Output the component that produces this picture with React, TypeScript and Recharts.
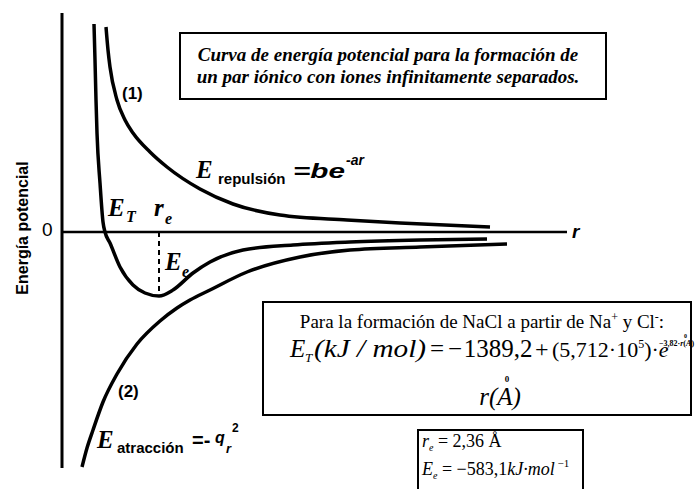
import { LineChart, Line, XAxis, YAxis, ReferenceLine } from 'recharts'

// Curvas de energía potencial (unidades arbitrarias): r horizontal, E vertical
const repulsionR = [8.8, 9.2, 9.6, 11, 12.6, 14.2, 17.6, 21, 27.6, 34.2, 43.6, 57, 67.6, 85.6]
const repulsionE = [102.5, 91, 82.5, 66, 56, 49.5, 40, 32.5, 21.5, 14, 8.5, 6, 4.5, 2.5]

const totalR = [6.4, 6.6, 6.8, 7, 7.6, 8.2, 8.6, 9.6, 11.6, 14.2, 16.6, 19.4, 22.2, 26.2, 29.6, 36.2, 46.2, 57.6, 71.6, 85]
const totalE = [104, 86, 66, 49.5, 24.5, 5, 0, -5.5, -17.5, -26.5, -30.5, -32, -29, -20.5, -15, -9, -6.5, -5, -4, -3.5]

const attractionR = [4, 5, 6.2, 8.2, 11, 15, 19.6, 23, 25.6, 29.6, 37, 47.6, 57.6, 71.6, 89]
const attractionE = [-117.5, -108, -99, -85, -71, -56, -44.5, -38, -34, -29, -20, -12.5, -9, -7.5, -6]

// punto de equilibrio (r_e, E_e)
const rEq = 19.4
const eEq = -32

const toPoints = (rs: number[], es: number[]) => rs.map((r, i) => ({ r, e: es[i] }))

const repulsion = toPoints(repulsionR, repulsionE)
const total = toPoints(totalR, totalE)
const attraction = toPoints(attractionR, attractionE)

const serif = "Liberation Serif, Times New Roman, serif"
const narrow = "Liberation Sans Narrow, Arial Narrow, Liberation Sans, sans-serif"
const sans = "Liberation Sans, Arial, sans-serif"

function Labels() {
    return (
        <svg width={696} height={489} style={{ position: 'absolute', left: 0, top: 0, pointerEvents: 'none' }}>
            {/* título */}
            <rect x={180} y={33} width={426} height={66} fill="#fff" stroke="#000" strokeWidth={2} />
            <text x={388} y={61} textAnchor="middle" fontFamily={serif} fontSize={19} fontStyle="italic" fontWeight="bold">
                Curva de energía potencial para la formación de
            </text>
            <text x={388} y={83} textAnchor="middle" fontFamily={serif} fontSize={19} fontStyle="italic" fontWeight="bold">
                un par iónico con iones infinitamente separados.
            </text>

            {/* eje vertical */}
            <text transform="translate(22,228) rotate(-90)" textAnchor="middle" dominantBaseline="central"
                fontFamily={narrow} fontSize={16} fontWeight="bold">Energía potencial</text>
            <text x={42} y={236} fontFamily={sans} fontSize={19}>0</text>
            <text x={572} y={238} fontFamily={sans} fontSize={19} fontWeight="bold" fontStyle="italic">r</text>

            <text x={122} y={99} fontFamily={narrow} fontSize={17} fontWeight="bold">(1)</text>
            <text x={118} y={397} fontFamily={narrow} fontSize={17} fontWeight="bold">(2)</text>

            {/* E_repulsión = b e^-ar */}
            <text x={196} y={178} fontFamily={serif} fontSize={25} fontStyle="italic" fontWeight="bold">E</text>
            <text x={218} y={184} fontFamily={narrow} fontSize={15} fontWeight="bold">repulsión</text>
            <text x={293} y={178} fontFamily={sans} fontSize={21} fontWeight="bold" fontStyle="italic"
                textLength={52} lengthAdjust="spacingAndGlyphs">=be</text>
            <text x={346} y={165} fontFamily={sans} fontSize={14} fontWeight="bold" fontStyle="italic">-ar</text>

            {/* E_T, r_e, E_e */}
            <text x={108} y={216} fontFamily={serif} fontSize={25} fontStyle="italic" fontWeight="bold">E</text>
            <text x={126} y={222} fontFamily={serif} fontSize={16} fontStyle="italic" fontWeight="bold">T</text>
            <text x={154} y={216} fontFamily={serif} fontSize={25} fontStyle="italic" fontWeight="bold">r</text>
            <text x={165} y={224} fontFamily={serif} fontSize={16} fontStyle="italic" fontWeight="bold">e</text>
            <text x={165} y={270} fontFamily={serif} fontSize={25} fontStyle="italic" fontWeight="bold">E</text>
            <text x={182} y={277} fontFamily={serif} fontSize={16} fontStyle="italic" fontWeight="bold">e</text>

            {/* E_atracción = -q²/r */}
            <text x={97} y={448} fontFamily={serif} fontSize={25} fontStyle="italic" fontWeight="bold">E</text>
            <text x={117} y={453} fontFamily={narrow} fontSize={15} fontWeight="bold">atracción</text>
            <text x={192} y={447} fontFamily={sans} fontSize={20} fontWeight="bold">=-</text>
            <text x={215} y={443} fontFamily={sans} fontSize={16} fontWeight="bold" fontStyle="italic">q</text>
            <text x={232} y={432} fontFamily={sans} fontSize={12} fontWeight="bold">2</text>
            <text x={226} y={453} fontFamily={sans} fontSize={13} fontWeight="bold" fontStyle="italic">r</text>

            {/* NaCl */}
            <rect x={263} y={302} width={428} height={113} fill="#fff" stroke="#000" strokeWidth={2} />
            <text x={482} y={328} textAnchor="middle" fontFamily={serif} fontSize={19}>
                Para la formación de NaCl a partir de Na<tspan fontSize={12} dy={-7}>+</tspan>
                <tspan dy={7}> y Cl</tspan><tspan fontSize={12} dy={-7}>-</tspan><tspan dy={7}>:</tspan>
            </text>
            <text x={290} y={357} fontFamily={serif} fontSize={25} fontStyle="italic">E</text>
            <text x={305} y={362} fontFamily={serif} fontSize={13} fontStyle="italic">T</text>
            <text x={314} y={357} fontFamily={serif} fontSize={25} fontStyle="italic"
                textLength={112} lengthAdjust="spacingAndGlyphs">(kJ / mol)</text>
            <text x={430} y={357} fontFamily={serif} fontSize={25}>=</text>
            <text x={448} y={357} fontFamily={serif} fontSize={25}>−</text>
            <text x={498} y={357} textAnchor="middle" fontFamily={serif} fontSize={25}>1389,2</text>
            <text x={500} y={405} textAnchor="middle" fontFamily={serif} fontSize={25} fontStyle="italic">r(A)</text>
            <text x={507} y={382} textAnchor="middle" fontFamily={serif} fontSize={9} fontWeight="bold">0</text>
            <text x={535} y={357} fontFamily={serif} fontSize={24}>+</text>
            <text x={552} y={357} fontFamily={serif} fontSize={22}>
                (5,712·10<tspan fontSize={12} dy={-9}>5</tspan><tspan dy={9}>)·</tspan>
                <tspan fontStyle="italic">e</tspan>
            </text>
            <text x={659} y={346} fontFamily={serif} fontSize={8} fontWeight="bold">
                −3,82·<tspan fontStyle="italic">r</tspan>(<tspan fontStyle="italic">A</tspan>)
            </text>
            <text x={684} y={338} fontFamily={serif} fontSize={6} fontWeight="bold">0</text>

            {/* valores de equilibrio */}
            <rect x={418} y={430} width={165} height={75} fill="#fff" stroke="#000" strokeWidth={2} />
            <text x={422} y={447} fontFamily={serif} fontSize={18}>
                <tspan fontStyle="italic">r</tspan><tspan fontSize={10} dy={4} fontStyle="italic">e</tspan>
                <tspan dy={-4}> = 2,36 Å</tspan>
            </text>
            <text x={422} y={475} fontFamily={serif} fontSize={18}>
                <tspan fontStyle="italic">E</tspan><tspan fontSize={10} dy={4} fontStyle="italic">e</tspan>
                <tspan dy={-4}> = −583,1</tspan><tspan fontStyle="italic">kJ·mol</tspan>
                <tspan fontSize={11} dy={-8}> −1</tspan>
            </text>
        </svg>
    )
}

export default function App() {
    return (
        <div style={{ position: 'fixed', left: 0, top: 0, width: 696, height: 489, background: '#fff' }}>
            <LineChart width={696} height={489} margin={{ top: 12, right: 124, bottom: 17, left: 62 }}>
                <XAxis type="number" dataKey="r" domain={[0, 102]} hide />
                <YAxis type="number" dataKey="e" domain={[-120, 110]} hide />
                {/* ejes dibujados a mano */}
                <ReferenceLine segment={[{ x: 0, y: 109.5 }, { x: 0, y: -118 }]} stroke="#000" strokeWidth={3} ifOverflow="visible" />
                <ReferenceLine segment={[{ x: 0, y: 0 }, { x: 101, y: 0 }]} stroke="#000" strokeWidth={2.5} ifOverflow="visible" />
                <ReferenceLine segment={[{ x: rEq, y: 0 }, { x: rEq, y: eEq }]} stroke="#000" strokeWidth={2} strokeDasharray="5 4" />
                <Line data={repulsion} dataKey="e" type="monotone" stroke="#000" strokeWidth={3.5} dot={false} activeDot={false} isAnimationActive={false} />
                <Line data={total} dataKey="e" type="monotone" stroke="#000" strokeWidth={3.5} dot={false} activeDot={false} isAnimationActive={false} />
                <Line data={attraction} dataKey="e" type="monotone" stroke="#000" strokeWidth={3.5} dot={false} activeDot={false} isAnimationActive={false} />
            </LineChart>
            <Labels />
        </div>
    )
}
